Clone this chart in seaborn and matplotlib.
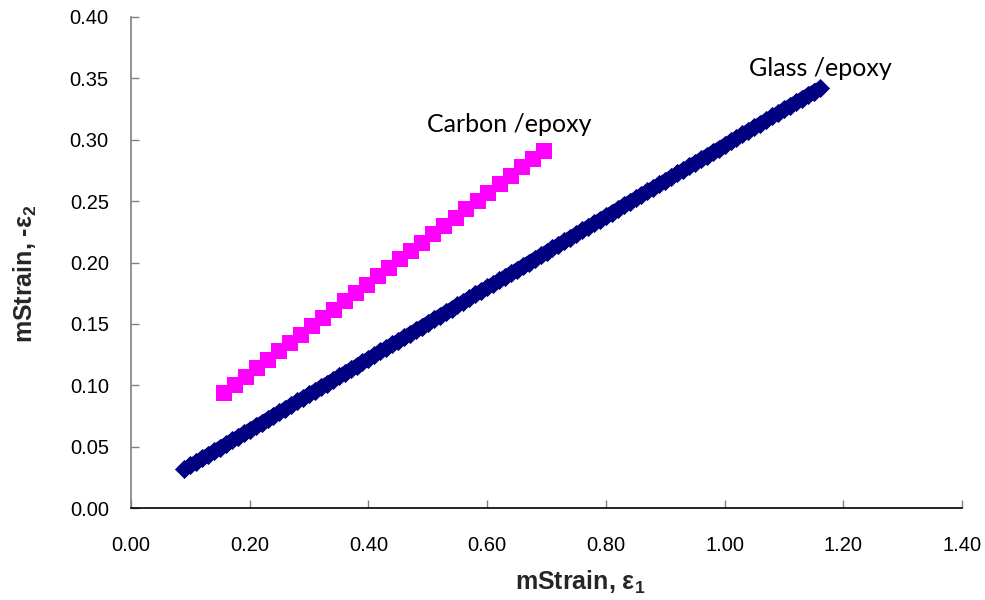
import matplotlib
matplotlib.use("Agg")
import matplotlib.pyplot as plt
import seaborn as sns
import pandas as pd

# ---- data ----
glass_x = [0.09, 0.10, 0.11, 0.12, 0.13, 0.14, 0.15, 0.16, 0.17, 0.18,
           0.19, 0.20, 0.21, 0.22, 0.23, 0.24, 0.25, 0.26, 0.27, 0.28,
           0.29, 0.30, 0.31, 0.32, 0.33, 0.34, 0.35, 0.36, 0.37, 0.38,
           0.39, 0.40, 0.41, 0.42, 0.43, 0.44, 0.45, 0.46, 0.47, 0.48,
           0.49, 0.50, 0.51, 0.52, 0.53, 0.54, 0.55, 0.56, 0.57, 0.58,
           0.59, 0.60, 0.61, 0.62, 0.63, 0.64, 0.65, 0.66, 0.67, 0.68,
           0.69, 0.70, 0.71, 0.72, 0.73, 0.74, 0.75, 0.76, 0.77, 0.78,
           0.79, 0.80, 0.81, 0.82, 0.83, 0.84, 0.85, 0.86, 0.87, 0.88,
           0.89, 0.90, 0.91, 0.92, 0.93, 0.94, 0.95, 0.96, 0.97, 0.98,
           0.99, 1.00, 1.01, 1.02, 1.03, 1.04, 1.05, 1.06, 1.07, 1.08,
           1.09, 1.10, 1.11, 1.12, 1.13, 1.14, 1.15, 1.16]
glass_y = [0.0320, 0.0349, 0.0378, 0.0407, 0.0436, 0.0465, 0.0494, 0.0523, 0.0552, 0.0581,
           0.0610, 0.0639, 0.0668, 0.0697, 0.0726, 0.0755, 0.0784, 0.0812, 0.0841, 0.0870,
           0.0899, 0.0928, 0.0957, 0.0986, 0.1015, 0.1044, 0.1073, 0.1102, 0.1131, 0.1160,
           0.1189, 0.1218, 0.1247, 0.1276, 0.1305, 0.1334, 0.1363, 0.1392, 0.1421, 0.1450,
           0.1479, 0.1508, 0.1537, 0.1566, 0.1595, 0.1624, 0.1653, 0.1682, 0.1711, 0.1740,
           0.1769, 0.1797, 0.1826, 0.1855, 0.1884, 0.1913, 0.1942, 0.1971, 0.2000, 0.2029,
           0.2058, 0.2087, 0.2116, 0.2145, 0.2174, 0.2203, 0.2232, 0.2261, 0.2290, 0.2319,
           0.2348, 0.2377, 0.2406, 0.2435, 0.2464, 0.2493, 0.2522, 0.2551, 0.2580, 0.2609,
           0.2638, 0.2667, 0.2696, 0.2725, 0.2753, 0.2782, 0.2811, 0.2840, 0.2869, 0.2898,
           0.2927, 0.2956, 0.2985, 0.3014, 0.3043, 0.3072, 0.3101, 0.3130, 0.3159, 0.3188,
           0.3217, 0.3246, 0.3275, 0.3304, 0.3333, 0.3362, 0.3391, 0.3420]

carbon_x = [0.156, 0.175, 0.193, 0.212, 0.230, 0.249, 0.268, 0.286, 0.305, 0.323,
            0.342, 0.361, 0.379, 0.398, 0.416, 0.435, 0.454, 0.472, 0.491, 0.509,
            0.528, 0.547, 0.565, 0.584, 0.602, 0.621, 0.640, 0.658, 0.677, 0.695]
carbon_y = [0.0935, 0.1003, 0.1071, 0.1139, 0.1207, 0.1276, 0.1344, 0.1412, 0.1480, 0.1548,
            0.1616, 0.1684, 0.1752, 0.1820, 0.1888, 0.1957, 0.2025, 0.2093, 0.2161, 0.2229,
            0.2297, 0.2365, 0.2433, 0.2501, 0.2569, 0.2638, 0.2706, 0.2774, 0.2842, 0.2910]

x_ticks = [0.00, 0.20, 0.40, 0.60, 0.80, 1.00, 1.20, 1.40]
y_ticks = [0.00, 0.05, 0.10, 0.15, 0.20, 0.25, 0.30, 0.35, 0.40]

glass_label = "Glass /epoxy"
carbon_label = "Carbon /epoxy"
x_title = "mStrain, ε$_\\mathbf{1}$"
y_title = "mStrain, -ε$_\\mathbf{2}$"

# ---- style ----
sns.set_style("ticks")
plt.rcParams["font.family"] = ["Liberation Sans", "DejaVu Sans"]
plt.rcParams["mathtext.fontset"] = "custom"
plt.rcParams["mathtext.bf"] = "Liberation Sans:bold"
plt.rcParams["mathtext.rm"] = "Liberation Sans:bold"

fig = plt.figure(figsize=(9.85, 6.0), dpi=100)
ax = fig.add_axes([131 / 985, (600 - 508.3) / 600, (962 - 131) / 985, (508.3 - 16.7) / 600])

glass_df = pd.DataFrame({"x": glass_x, "y": glass_y})
carbon_df = pd.DataFrame({"x": carbon_x, "y": carbon_y})

navy = "#000080"
sns.lineplot(data=glass_df, x="x", y="y", ax=ax, color=navy, linewidth=9.2,
             sort=False, estimator=None, legend=False, solid_capstyle="butt")
sns.scatterplot(data=glass_df, x="x", y="y", ax=ax, marker="D", s=95,
                color=navy, linewidth=0, legend=False)
sns.scatterplot(data=carbon_df, x="x", y="y", ax=ax, marker="s", s=118,
                color="#FF00FF", linewidth=0, legend=False)

ax.set_xlim(0, 1.40)
ax.set_ylim(0, 0.40)
ax.set_xticks(x_ticks)
ax.set_yticks(y_ticks)
ax.set_xticklabels([f"{v:.2f}" for v in x_ticks])
ax.set_yticklabels([f"{v:.2f}" for v in y_ticks])

for s in ["top", "right"]:
    ax.spines[s].set_visible(False)
ax.spines["bottom"].set_color("black")
ax.spines["bottom"].set_linewidth(1.2)
ax.spines["left"].set_color("#808080")
ax.spines["left"].set_linewidth(1.2)

ax.tick_params(axis="x", direction="in", length=6, width=1, color="#808080",
               labelsize=14.5, pad=20, labelcolor="black")
ax.tick_params(axis="y", direction="in", length=6, width=1, color="#808080",
               labelsize=14.5, pad=16, labelcolor="black")

ax.set_xlabel(x_title, fontsize=18, fontweight="bold", va="center")
ax.set_ylabel(y_title, fontsize=18, fontweight="bold", va="center")
ax.xaxis.set_label_coords((580 - 131) / (962 - 131), -(582 - 508.3) / (508.3 - 16.7))
ax.yaxis.set_label_coords(-(131 - 25) / (962 - 131), (508.3 - 274) / (508.3 - 16.7))

ax.text(1.161, 0.358, glass_label, fontsize=18, ha="center", va="center",
        color="black", family=["Lato", "DejaVu Sans"])
ax.text(0.637, 0.312, carbon_label, fontsize=18, ha="center", va="center",
        color="black", family=["Lato", "DejaVu Sans"])

fig.savefig("out.png", dpi=100)
